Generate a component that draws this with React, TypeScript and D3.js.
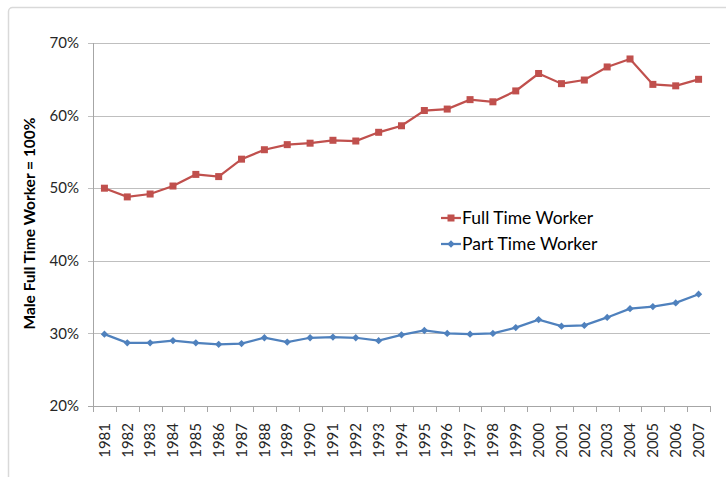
import React, { useEffect, useRef } from 'react';
import * as d3 from 'd3';

const years = [
  '1981', '1982', '1983', '1984', '1985', '1986', '1987', '1988', '1989', '1990',
  '1991', '1992', '1993', '1994', '1995', '1996', '1997', '1998', '1999', '2000',
  '2001', '2002', '2003', '2004', '2005', '2006', '2007',
];

const fullTime = [
  50.0, 48.8, 49.2, 50.3, 51.9, 51.6, 54.0, 55.3, 56.0, 56.2,
  56.6, 56.5, 57.7, 58.6, 60.7, 60.9, 62.2, 61.9, 63.4, 65.8,
  64.4, 64.9, 66.7, 67.8, 64.3, 64.1, 65.0,
];

const partTime = [
  29.9, 28.7, 28.7, 29.0, 28.7, 28.5, 28.6, 29.4, 28.8, 29.4,
  29.5, 29.4, 29.0, 29.8, 30.4, 30.0, 29.9, 30.0, 30.8, 31.9,
  31.0, 31.1, 32.2, 33.4, 33.7, 34.2, 35.4,
];

const yTicks = [20, 30, 40, 50, 60, 70];

const RED = '#C0504D';
const BLUE = '#4F81BD';
const FONT = 'Lato, "Liberation Sans", sans-serif';

const App = () => {
  const ref = useRef<SVGSVGElement>(null);

  useEffect(() => {
    const svg = d3.select(ref.current);
    svg.selectAll('*').remove();

    const left = 93;
    const right = 710;
    const top = 43;
    const bottom = 406;

    const x = d3.scaleBand().domain(years).range([left, right]).padding(0);
    const y = d3.scaleLinear().domain([20, 70]).range([bottom, top]);
    const cx = (d: string) => (x(d) as number) + x.bandwidth() / 2;

    // chart frame
    svg
      .append('rect')
      .attr('x', 8.5)
      .attr('y', 7.5)
      .attr('width', 760)
      .attr('height', 520)
      .attr('rx', 4)
      .attr('fill', '#fff')
      .attr('stroke', '#D9D9D9')
      .attr('stroke-width', 1.5);

    // gridlines + y labels
    const yg = svg.append('g');
    yg.selectAll('line.grid')
      .data(yTicks)
      .enter()
      .append('line')
      .attr('x1', 88)
      .attr('x2', right)
      .attr('y1', (d) => Math.round(y(d)) + 0.5)
      .attr('y2', (d) => Math.round(y(d)) + 0.5)
      .attr('stroke', (d) => (d === 20 ? '#A6A6A6' : '#BFBFBF'))
      .attr('stroke-width', 1);

    yg.selectAll('text')
      .data(yTicks)
      .enter()
      .append('text')
      .attr('x', 79)
      .attr('y', (d) => y(d))
      .attr('dy', '0.35em')
      .attr('text-anchor', 'end')
      .attr('font-family', FONT)
      .attr('font-size', 15)
      .attr('fill', '#262626')
      .text((d) => `${d}%`);

    // y axis line
    svg
      .append('line')
      .attr('x1', left + 0.5)
      .attr('x2', left + 0.5)
      .attr('y1', top)
      .attr('y2', bottom)
      .attr('stroke', '#A6A6A6');

    // x ticks between categories
    const edges = years.map((d) => x(d) as number).concat([right]);
    svg
      .append('g')
      .selectAll('line')
      .data(edges)
      .enter()
      .append('line')
      .attr('x1', (d) => Math.round(d) + 0.5)
      .attr('x2', (d) => Math.round(d) + 0.5)
      .attr('y1', bottom)
      .attr('y2', bottom + 6)
      .attr('stroke', '#A6A6A6');

    svg
      .append('g')
      .selectAll('text')
      .data(years)
      .enter()
      .append('text')
      .attr('transform', (d) => `translate(${cx(d)},${bottom + 17}) rotate(-90)`)
      .attr('dy', '0.35em')
      .attr('text-anchor', 'end')
      .attr('font-family', FONT)
      .attr('font-size', 15)
      .attr('fill', '#262626')
      .text((d) => d);

    // y title
    svg
      .append('text')
      .attr('transform', `translate(30,${(112 + 335) / 2}) rotate(-90)`)
      .attr('dy', '0.35em')
      .attr('text-anchor', 'middle')
      .attr('font-family', FONT)
      .attr('font-weight', 'bold')
      .attr('font-size', 15.5)
      .attr('fill', '#000')
      .text('Male Full Time Worker = 100%');

    const line = d3
      .line<number>()
      .x((_, i) => cx(years[i]))
      .y((d) => y(d));

    // full time
    svg
      .append('path')
      .attr('d', line(fullTime))
      .attr('fill', 'none')
      .attr('stroke', RED)
      .attr('stroke-width', 2.25);
    svg
      .append('g')
      .selectAll('rect')
      .data(fullTime)
      .enter()
      .append('rect')
      .attr('x', (_, i) => cx(years[i]) - 3.5)
      .attr('y', (d) => y(d) - 3.5)
      .attr('width', 7)
      .attr('height', 7)
      .attr('fill', RED);

    // part time
    const diamond = d3.symbol().type(d3.symbolDiamond2).size(34);
    svg
      .append('path')
      .attr('d', line(partTime))
      .attr('fill', 'none')
      .attr('stroke', BLUE)
      .attr('stroke-width', 2.25);
    svg
      .append('g')
      .selectAll('path')
      .data(partTime)
      .enter()
      .append('path')
      .attr('d', diamond())
      .attr('transform', (d, i) => `translate(${cx(years[i])},${y(d)})`)
      .attr('fill', BLUE);

    // legend
    const legend = [
      { name: 'Full Time Worker', color: RED, square: true, y: 218 },
      { name: 'Part Time Worker', color: BLUE, square: false, y: 244 },
    ];
    const lg = svg.append('g');
    legend.forEach((l) => {
      lg.append('line')
        .attr('x1', 441)
        .attr('x2', 461)
        .attr('y1', l.y)
        .attr('y2', l.y)
        .attr('stroke', l.color)
        .attr('stroke-width', 2.25);
      if (l.square) {
        lg.append('rect')
          .attr('x', 447.5)
          .attr('y', l.y - 3.5)
          .attr('width', 7)
          .attr('height', 7)
          .attr('fill', l.color);
      } else {
        lg.append('path')
          .attr('d', diamond())
          .attr('transform', `translate(451,${l.y})`)
          .attr('fill', l.color);
      }
      lg.append('text')
        .attr('x', 462)
        .attr('y', l.y)
        .attr('dy', '0.35em')
        .attr('font-family', FONT)
        .attr('font-size', 17.5)
        .attr('fill', '#000')
        .text(l.name);
    });
  }, []);

  return (
    <svg
      ref={ref}
      width={726}
      height={477}
      style={{ position: 'absolute', left: 0, top: 0, background: '#fff' }}
    />
  );
};

export default App;
